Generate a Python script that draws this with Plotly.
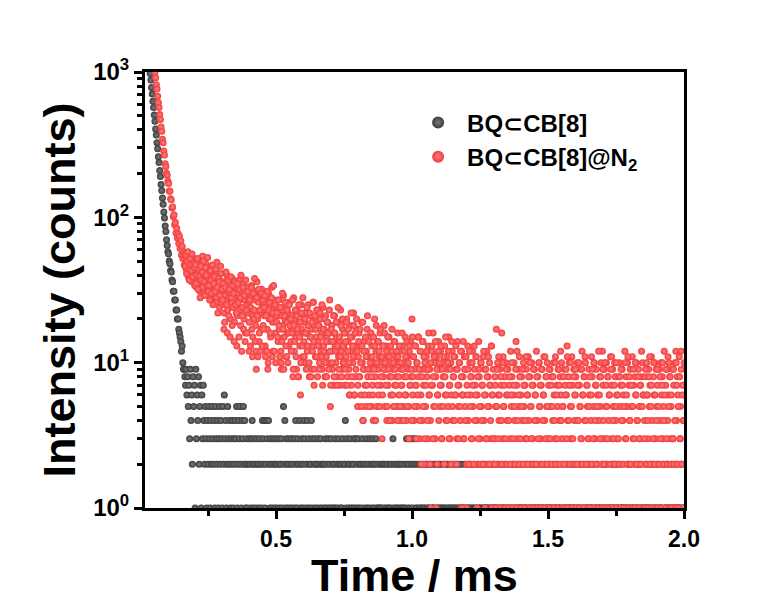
import numpy as np
import plotly.graph_objects as go

# ---------------- data (photon counts per time channel) ----------------
DT = 0.0025  # ms per channel

# BQ⊂CB[8]  (first plotted channel index, counts of the steep head, low-count tail in base-36 digits)
black_first_channel = 15
black_head = [978, 880, 783, 706, 628, 569, 505, 458, 405, 368, 326, 296, 261, 238, 210, 191,
              168, 153, 136, 123, 109, 99, 87, 80, 70, 64, 58, 56, 50, 48, 43, 42, 37, 36,
              31, 31, 27, 27, 23, 23, 20, 20, 17, 16, 15, 14, 12, 13]
black_tail = (
    "a998796857" "3946285719" "3648257163" "74253142"
    "5314253241" "5324135243" "1526341253" "2413241324" "3512435214" "35241"
    "2312032134" "2132013221" "3021432412" "4304213210" "32123"
    "1203122310" "5241321230" "1231203142" "1320412312" "4310241321" "2431023122"
    "1302132120" "2131203121" "3012213102" "1320121302" "2413021231" "0212313021"
    "3120213420" "1231021302" "13212031" "21"
    "0121120210" "2102110212" "0312012102" "1201210121" "0321231023" "1203211020"
    "1210120112" "0211021201" "1120210121" "2011201102" "1201102110" "2110210121"
    "0121101201" "1021120110" "2101012011" "0120112101" "1012011021" "2110102101"
    "0211012010" "1102101201" "2011021101" "1201011210" "0112010121" "1021101102"
    "0110210110" "2101101201" "1012011010" "0211010121" "1101201101" "2011010210"
    "1020110112" "0111020101" "1201101102" "0110210101" "1012011201" "0121010110"
    "1101102101" "2011010120" "1102011010" "0112101102" "1010210110" "2101011020"
    "1011201101" "0210110121" "1101021010"
)

# BQ⊂CB[8]@N2 -- readings on the channel grid (set a) ...
red_first_channel = 22
red_head = [995, 912, 818, 763, 681, 617, 570, 509, 472, 419, 391, 344, 326, 286, 268, 234,
            224, 201, 195, 177, 171, 152, 151, 134, 132, 116, 118, 101, 104, 89, 92, 78,
            84, 72, 77, 66, 74, 61, 69, 55, 63, 52, 58, 47, 56,
            52, 44, 57, 46, 39, 50, 55, 41, 47, 36, 53, 44, 40, 49,
            38, 45, 33, 51, 42, 36, 47, 31, 40, 44, 35, 54, 39, 30, 43, 37, 48, 33, 41, 29,
            38, 45, 31, 35, 27, 42, 33, 36, 29, 40, 32, 26, 49, 34, 30, 38, 24, 33, 41, 28,
            31, 25, 36, 22, 29, 34, 27, 40, 23, 31, 28, 35, 20, 30, 26, 38, 24, 32, 19, 29,
            33, 25, 21, 30, 27, 37, 23, 18, 28, 31, 24, 35, 20, 27, 16, 29, 25, 33, 22, 26,
            19, 28, 24, 34, 21, 15, 27, 23, 31, 18, 9, 36, 20, 26, 14, 29, 22, 17, 32, 24]
red_tail = (
    "iqldsnh9ukpfmxjcorgl" "joerhlc9nitfkpbjgmdq" "ielh8sckf9ng8jd6phbl"
    "ejamgcpi8fl9hdq7jbfn" "8eiakcg9odh8lbfjaer5" "ci9g7ldaf8jbe7nc9had"
    "7gbk8e96ic7fam6d8hb5" "bg8d6ja4e975ch8b6f95" "d74ak8c5e96bg7a3d8i5"
    "9d4b7f8a6c495e7b85ga" "6c497d5a8f64b95c7e8k" "6b49d7a5f83c694e72a5"
    "b83d6941c7g5a38b26e9" "5c73a82d64b95f73a6c4" "82b693e57a41c683b591"
    "7d42a683c5297b462e83" "a572b4963c285a73d621" "385h2a64917g3b582a64"
    "9173c5826a41e7395b26" "841a573926b4815a3729" "61c482a537916b4285a3"
    "7295184a63b27591486a" "3519726d48a153b72946" "81a427593c6184a27539"
    "624b815a379261485a3c" "71935a28461b73952a84" "6318a5729461c385a274"
    "915b37286a41953728a6" "1482a639571b4286a395" "72194a6835c172946a83"
    "519372ac4861b359274a"
)
# ... and readings at the half-channel positions (set b)
red_b_first_channel = 66.5
red_b_head = [46, 55, 41, 50, 58, 44, 37, 52, 47, 43, 56, 39, 48, 45, 34,
              47, 35, 40, 52, 32, 44, 39, 28, 46, 37, 42, 33, 50, 36, 29, 45, 40, 34, 53, 31,
              34, 27, 43, 37, 30, 47, 25, 35, 39, 31, 44, 28, 33, 22, 38, 36, 29, 46, 26, 32,
              27, 35, 17, 19, 33, 42, 25, 16, 37, 21, 32, 15, 39, 28, 18, 34, 30, 14, 36, 25,
              22, 13, 35, 26, 15, 32, 28, 40, 12, 21, 33, 17, 29, 14, 37, 23, 16, 31, 27, 12,
              27, 13, 33, 17, 11, 30, 20, 38, 14, 12, 28, 21, 11, 32, 16, 23, 12, 30, 13, 27]
red_b_tail = (
    "hotblcvanqgksbmycpal" "mfriboaeuh9lqdbnagpi" "kcgr9ienblh8pfjamdsg"
    "bkg9odiamf8jcqe9lhbn" "di9mfbp7hckae8jg9nc7" "hael8gcj7do9fbi8kdag"
    "9ej7cha6fm8dbi6g9kc7" "e8ha5dj9c6fb7l9e5ag8" "b6f9d4ia7ec5h8b6d9ga"
    "7c5f9b4d8h6a5e97c4b8" "d5a7g94c6b8e5a3d794f" "8b5d73a6f94c28e5b397"
    "c49g62a7d38b5e196c4a" "7d395b28f64ac3792e58" "b46d2973a5c816e394b2"
    "692c583a72d46b183952" "a472c619385b274d1693"
    "271593b61842a5713926" "14826a1375291c462831" "592714b36281a5372914"
    "62813a57192461b38251" "931725814a2631972c41" "5821693b1472a5138269"
    "1274a15392618b427135" "816293a147251c638219" "42a175381629b143725a"
    "163281947251a362b184" "2715931a62481372c516" "31926418b25713a26149"
    "1528317a2461932b5182" "6139241a725183c2614"
)

names = ["BQ⊂CB[8]", "BQ⊂CB[8]@N<sub>2</sub>"]
colors = ["#3c3c3c", "#f23b3b"]
highlights = ["#7a7a7a", "#ff8080"]


def readings(first, head, tail):
    counts = np.array(list(head) + [int(c, 36) for c in tail], dtype=float)
    t = (first + np.arange(len(counts))) * DT
    keep = counts > 0
    return t[keep], counts[keep]


tb, cb = readings(black_first_channel, black_head, black_tail)
ta, ca = readings(red_first_channel, red_head, red_tail)
tr2, cr2 = readings(red_b_first_channel, red_b_head, red_b_tail)
tr = np.concatenate([ta, tr2])
cr = np.concatenate([ca, cr2])

fig = go.Figure()
for (t, c), name, col, hl in zip([(tb, cb), (tr, cr)], names, colors, highlights):
    fig.add_trace(go.Scatter(
        x=t, y=c, mode="markers", name=name,
        marker=dict(size=7, color=col, line=dict(width=0),
                    gradient=dict(type="radial", color=hl)),
    ))

font_family = "Liberation Sans, Arial, DejaVu Sans"
fig.update_layout(
    width=781, height=601,
    margin=dict(l=145, r=97, t=72, b=93, autoexpand=False),
    paper_bgcolor="white", plot_bgcolor="white",
    font=dict(family=font_family, color="black"),
    showlegend=True,
    legend=dict(x=0.49, y=0.935, xanchor="left", yanchor="top",
                font=dict(size=24, family=font_family, weight="bold"),
                itemsizing="constant", itemwidth=48,
                bgcolor="rgba(0,0,0,0)", tracegroupgap=0),
    xaxis=dict(
        range=[0.0184, 2.0], showline=True, linewidth=3, linecolor="black", mirror=True,
        ticks="outside", ticklen=8, tickwidth=3, tickcolor="black",
        tickvals=[0.5, 1.0, 1.5, 2.0], ticktext=["0.5", "1.0", "1.5", "2.0"],
        tickfont=dict(size=23, weight="bold"),
        minor=dict(ticks="outside", ticklen=5, tickwidth=2.5, tickcolor="black",
                   tickvals=[0.25, 0.75, 1.25, 1.75]),
        showgrid=False, zeroline=False, automargin=False,
        title=dict(text="Time / ms", font=dict(size=45, weight="bold"), standoff=15),
    ),
    yaxis=dict(
        type="log", range=[0, 3], showline=True, linewidth=3, linecolor="black", mirror=True,
        ticks="outside", ticklen=8, tickwidth=3, tickcolor="black",
        tickvals=[1, 10, 100, 1000],
        ticktext=["10<sup>0</sup>", "10<sup>1</sup>", "10<sup>2</sup>", "10<sup>3</sup>"],
        tickfont=dict(size=24, weight="bold"),
        minor=dict(ticks="outside", ticklen=5, tickwidth=2.5, tickcolor="black",
                   tickvals=[m * 10 ** k for k in range(3) for m in range(2, 10)]),
        showgrid=False, zeroline=False, automargin=False,
        title=dict(text="Intensity (counts)", font=dict(size=45, weight="bold"), standoff=4),
    ),
)

fig.write_html("out.html")
